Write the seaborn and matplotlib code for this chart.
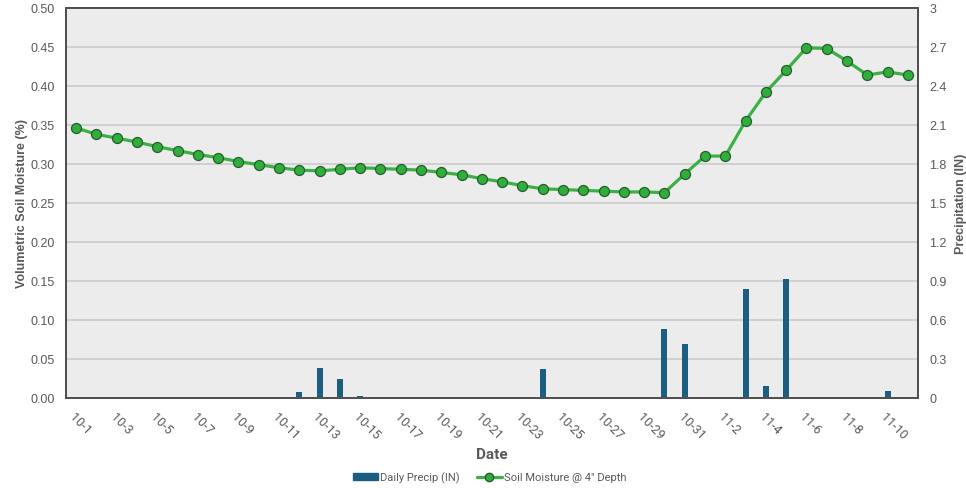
import numpy as np
import pandas as pd
import matplotlib
matplotlib.use("Agg")
import matplotlib.pyplot as plt
from matplotlib.lines import Line2D
from matplotlib.patches import Patch
import seaborn as sns

# Daily dates, Oct 1 - Nov 11
dates = [f"10-{d}" for d in range(1, 32)] + [f"11-{d}" for d in range(1, 12)]

# Volumetric soil moisture at 4" depth (fraction)
soil_moisture = [
    0.346, 0.338, 0.333, 0.328, 0.322, 0.317, 0.312, 0.308, 0.303, 0.299,
    0.295, 0.292, 0.291, 0.293, 0.295, 0.294, 0.293, 0.292, 0.289, 0.286,
    0.281, 0.277, 0.272, 0.268, 0.267, 0.266, 0.265, 0.264, 0.264, 0.263,
    0.287, 0.310, 0.310, 0.355, 0.392, 0.420, 0.449, 0.448, 0.432, 0.414,
    0.418, 0.414,
]

# Daily precipitation (inches)
precip = [
    0, 0, 0, 0, 0, 0, 0, 0, 0, 0,
    0, 0.04, 0.23, 0.14, 0.01, 0, 0, 0, 0, 0,
    0, 0, 0, 0.22, 0, 0, 0, 0, 0, 0.53,
    0.41, 0, 0, 0.84, 0.09, 0.91, 0, 0, 0, 0,
    0.05, 0,
]

left_ticks = [0.00, 0.05, 0.10, 0.15, 0.20, 0.25, 0.30, 0.35, 0.40, 0.45, 0.50]
right_ticks = [0, 0.3, 0.6, 0.9, 1.2, 1.5, 1.8, 2.1, 2.4, 2.7, 3]
right_labels = ["0", "0.3", "0.6", "0.9", "1.2", "1.5", "1.8", "2.1", "2.4", "2.7", "3"]

df = pd.DataFrame({"Date": dates, "Soil": soil_moisture, "Precip": precip})
df["pos"] = np.arange(len(df))

sns.set_theme(style="white")
plt.rcParams["font.family"] = ["Liberation Sans", "DejaVu Sans"]

TXT = "#595959"
BG = "#ececec"
BAR = "#1b5e80"
LINE = "#3bb143"
SANS = ["Roboto", "DejaVu Sans"]

fig = plt.figure(figsize=(9.66, 4.89), dpi=100)
ax = fig.add_axes([0.0683, 0.1847, 0.8820, 0.7969])
ax2 = ax.twinx()

# Bars on the precipitation axis, placed underneath the moisture line
ax2.patch.set_visible(True)
ax2.set_facecolor(BG)
ax.set_zorder(ax2.get_zorder() + 1)
ax.patch.set_visible(False)

sns.barplot(data=df, x="pos", y="Precip", ax=ax2, color=BAR, width=0.3,
            native_scale=True, saturation=1, linewidth=0, zorder=3)
ax2.set_ylim(0, 3)
ax2.set_yticks(right_ticks)
ax2.set_yticklabels(right_labels)
ax2.yaxis.grid(True, color="#cbcbcb", linewidth=1.2, zorder=0)
ax2.set_axisbelow(True)
ax2.set_ylabel("Precipitation (IN)", fontsize=9, fontweight="bold", color=TXT,
               labelpad=6)

sns.lineplot(data=df, x="pos", y="Soil", ax=ax, color=LINE, linewidth=2.3,
             marker="o", markersize=7.2, markerfacecolor="#2fae3c",
             markeredgecolor="#275c2c", markeredgewidth=0.9)
ax.set_ylim(0, 0.5)
ax.set_yticks(left_ticks)
ax.set_yticklabels([f"{v:.2f}" for v in left_ticks])
ax.set_ylabel("Volumetric Soil Moisture (%)", fontsize=9, fontweight="bold",
              color=TXT, labelpad=2)

ax.set_xlim(-0.5, len(dates) - 0.5)
ax.set_xticks(df["pos"][::2])
ax.set_xticklabels(df["Date"][::2], rotation=-45, ha="left",
                   rotation_mode="anchor", fontsize=9, color=TXT,
                   family=SANS)
ax.set_xlabel("Date", fontsize=11, fontweight="bold", color=TXT, labelpad=4,
              family=SANS)

for a in (ax, ax2):
    a.tick_params(axis="both", length=0, labelsize=9, labelcolor=TXT)
    for s in a.spines.values():
        s.set_color("#505050")
        s.set_linewidth(1.4)
ax.tick_params(axis="x", pad=9, labelsize=9)
ax2.tick_params(axis="y", pad=8)
ax.tick_params(axis="y", pad=8)

handles = [
    Patch(facecolor=BAR, edgecolor=BAR),
    Line2D([0], [0], color=LINE, linewidth=2.3, marker="o", markersize=6,
           markerfacecolor="#2fae3c", markeredgecolor="#275c2c"),
]
leg = fig.legend(handles, ["Daily Precip (IN)", 'Soil Moisture @ 4" Depth'],
                 loc="center", bbox_to_anchor=(0.507, 0.022), ncol=2,
                 frameon=False, handlelength=2.2, handletextpad=0.2,
                 columnspacing=1.6, prop={"family": SANS, "size": 8})
for t in leg.get_texts():
    t.set_color(TXT)

fig.savefig("out.png", dpi=100, facecolor="white")
